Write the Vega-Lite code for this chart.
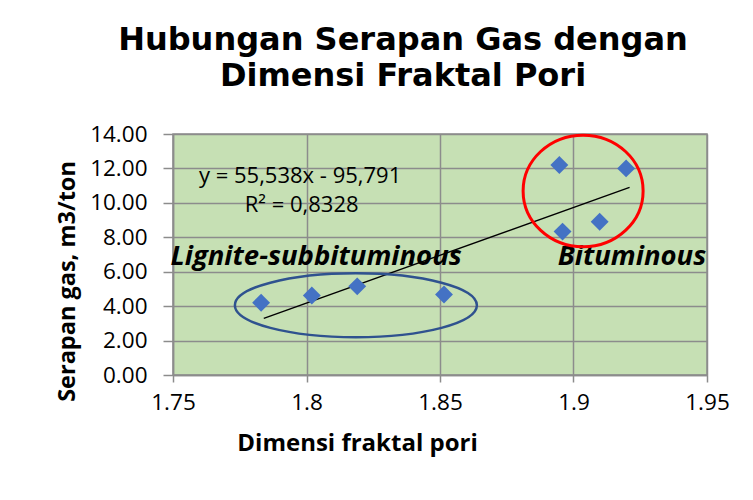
{
  "$schema": "https://vega.github.io/schema/vega-lite/v6.json",
  "width": 534,
  "height": 241,
  "autosize": {"type": "none"},
  "padding": {"left": 173, "top": 134, "right": 46, "bottom": 125},
  "background": "white",
  "title": {
    "text": ["Hubungan Serapan Gas dengan", "Dimensi Fraktal Pori"],
    "font": "DejaVu Sans",
    "fontWeight": "bold",
    "fontSize": 32,
    "lineHeight": 36,
    "color": "black",
    "anchor": "middle",
    "frame": "group",
    "dx": -37,
    "offset": 30
  },
  "config": {
    "view": {"fill": "#C6E0B4", "stroke": "#8c8c8c", "strokeWidth": 1.5},
    "axis": {
      "labelFont": "Open Sans",
      "labelFontSize": 22.5,
      "labelColor": "black",
      "labelOverlap": false,
      "labelFlush": false,
      "titleFont": "Open Sans",
      "titleFontSize": 24,
      "titleFontWeight": "bold",
      "titleColor": "black",
      "gridColor": "#8c8c8c",
      "gridWidth": 1.5,
      "gridOpacity": 1,
      "domainColor": "#8c8c8c",
      "domainWidth": 1.5,
      "tickColor": "#8c8c8c",
      "tickWidth": 1.5
    }
  },
  "layer": [
    {
      "data": {"values": [{"x": 1.784, "y": 3.289}, {"x": 1.921, "y": 10.897}]},
      "mark": {"type": "line", "color": "black", "strokeWidth": 1.4},
      "encoding": {
        "x": {
          "field": "x", "type": "quantitative",
          "scale": {"domain": [1.75, 1.95], "nice": false, "zero": false},
          "axis": {"values": [1.75, 1.8, 1.85, 1.9, 1.95], "tickCount": 5, "format": "~g", "title": "Dimensi fraktal pori", "tickSize": 7, "labelPadding": 9, "titlePadding": 18, "titleX": 184}
        },
        "y": {
          "field": "y", "type": "quantitative",
          "scale": {"domain": [0, 14], "nice": false},
          "axis": {"values": [0, 2, 4, 6, 8, 10, 12, 14], "tickCount": 8, "format": ".2f", "title": "Serapan gas, m3/ton", "titleFontSize": 23.5, "tickSize": 10, "labelPadding": 16, "titlePadding": 10, "titleY": 147}
        }
      }
    },
    {
      "data": {"values": [
        {"x": 1.783, "y": 4.2},
        {"x": 1.802, "y": 4.62},
        {"x": 1.819, "y": 5.15},
        {"x": 1.8515, "y": 4.68},
        {"x": 1.8947, "y": 12.2},
        {"x": 1.8959, "y": 8.33},
        {"x": 1.9098, "y": 8.9},
        {"x": 1.9197, "y": 12.0}
      ]},
      "mark": {"type": "point", "shape": "diamond", "filled": true, "size": 320, "color": "#4472C4", "opacity": 1},
      "encoding": {
        "x": {"field": "x", "type": "quantitative"},
        "y": {"field": "y", "type": "quantitative"}
      }
    },
    {
      "data": {"values": [
        {"x": 1.7976, "y": 11.56, "label": "y = 55,538x - 95,791"},
        {"x": 1.7982, "y": 9.86, "label": "R² = 0,8328"}
      ]},
      "mark": {"type": "text", "font": "Open Sans", "fontSize": 22, "color": "black", "align": "center", "baseline": "middle"},
      "encoding": {
        "x": {"field": "x", "type": "quantitative"},
        "y": {"field": "y", "type": "quantitative"},
        "text": {"field": "label"}
      }
    },
    {
      "data": {"values": [
        {"x": 1.8036, "y": 6.85, "label": "Lignite-subbituminous"},
        {"x": 1.9219, "y": 6.85, "label": "Bituminous"}
      ]},
      "mark": {"type": "text", "font": "Open Sans", "fontSize": 27.5, "fontWeight": "bold", "fontStyle": "italic", "color": "black", "align": "center", "baseline": "middle"},
      "encoding": {
        "x": {"field": "x", "type": "quantitative"},
        "y": {"field": "y", "type": "quantitative"},
        "text": {"field": "label"}
      }
    },
    {
      "data": {"values": [{"x": 1.8185, "y": 4.05}]},
      "mark": {"type": "point", "shape": "M-1,0A1,0.264,0,1,1,1,0A1,0.264,0,1,1,-1,0Z", "size": 58564, "filled": false, "stroke": "#2F528F", "strokeWidth": 2.5, "opacity": 1},
      "encoding": {
        "x": {"field": "x", "type": "quantitative"},
        "y": {"field": "y", "type": "quantitative"}
      }
    },
    {
      "data": {"values": [{"x": 1.9036, "y": 10.69}]},
      "mark": {"type": "point", "shape": "M-1,0A1,0.93,0,1,1,1,0A1,0.93,0,1,1,-1,0Z", "size": 14400, "filled": false, "stroke": "#FF0000", "strokeWidth": 3, "opacity": 1},
      "encoding": {
        "x": {"field": "x", "type": "quantitative"},
        "y": {"field": "y", "type": "quantitative"}
      }
    }
  ]
}
